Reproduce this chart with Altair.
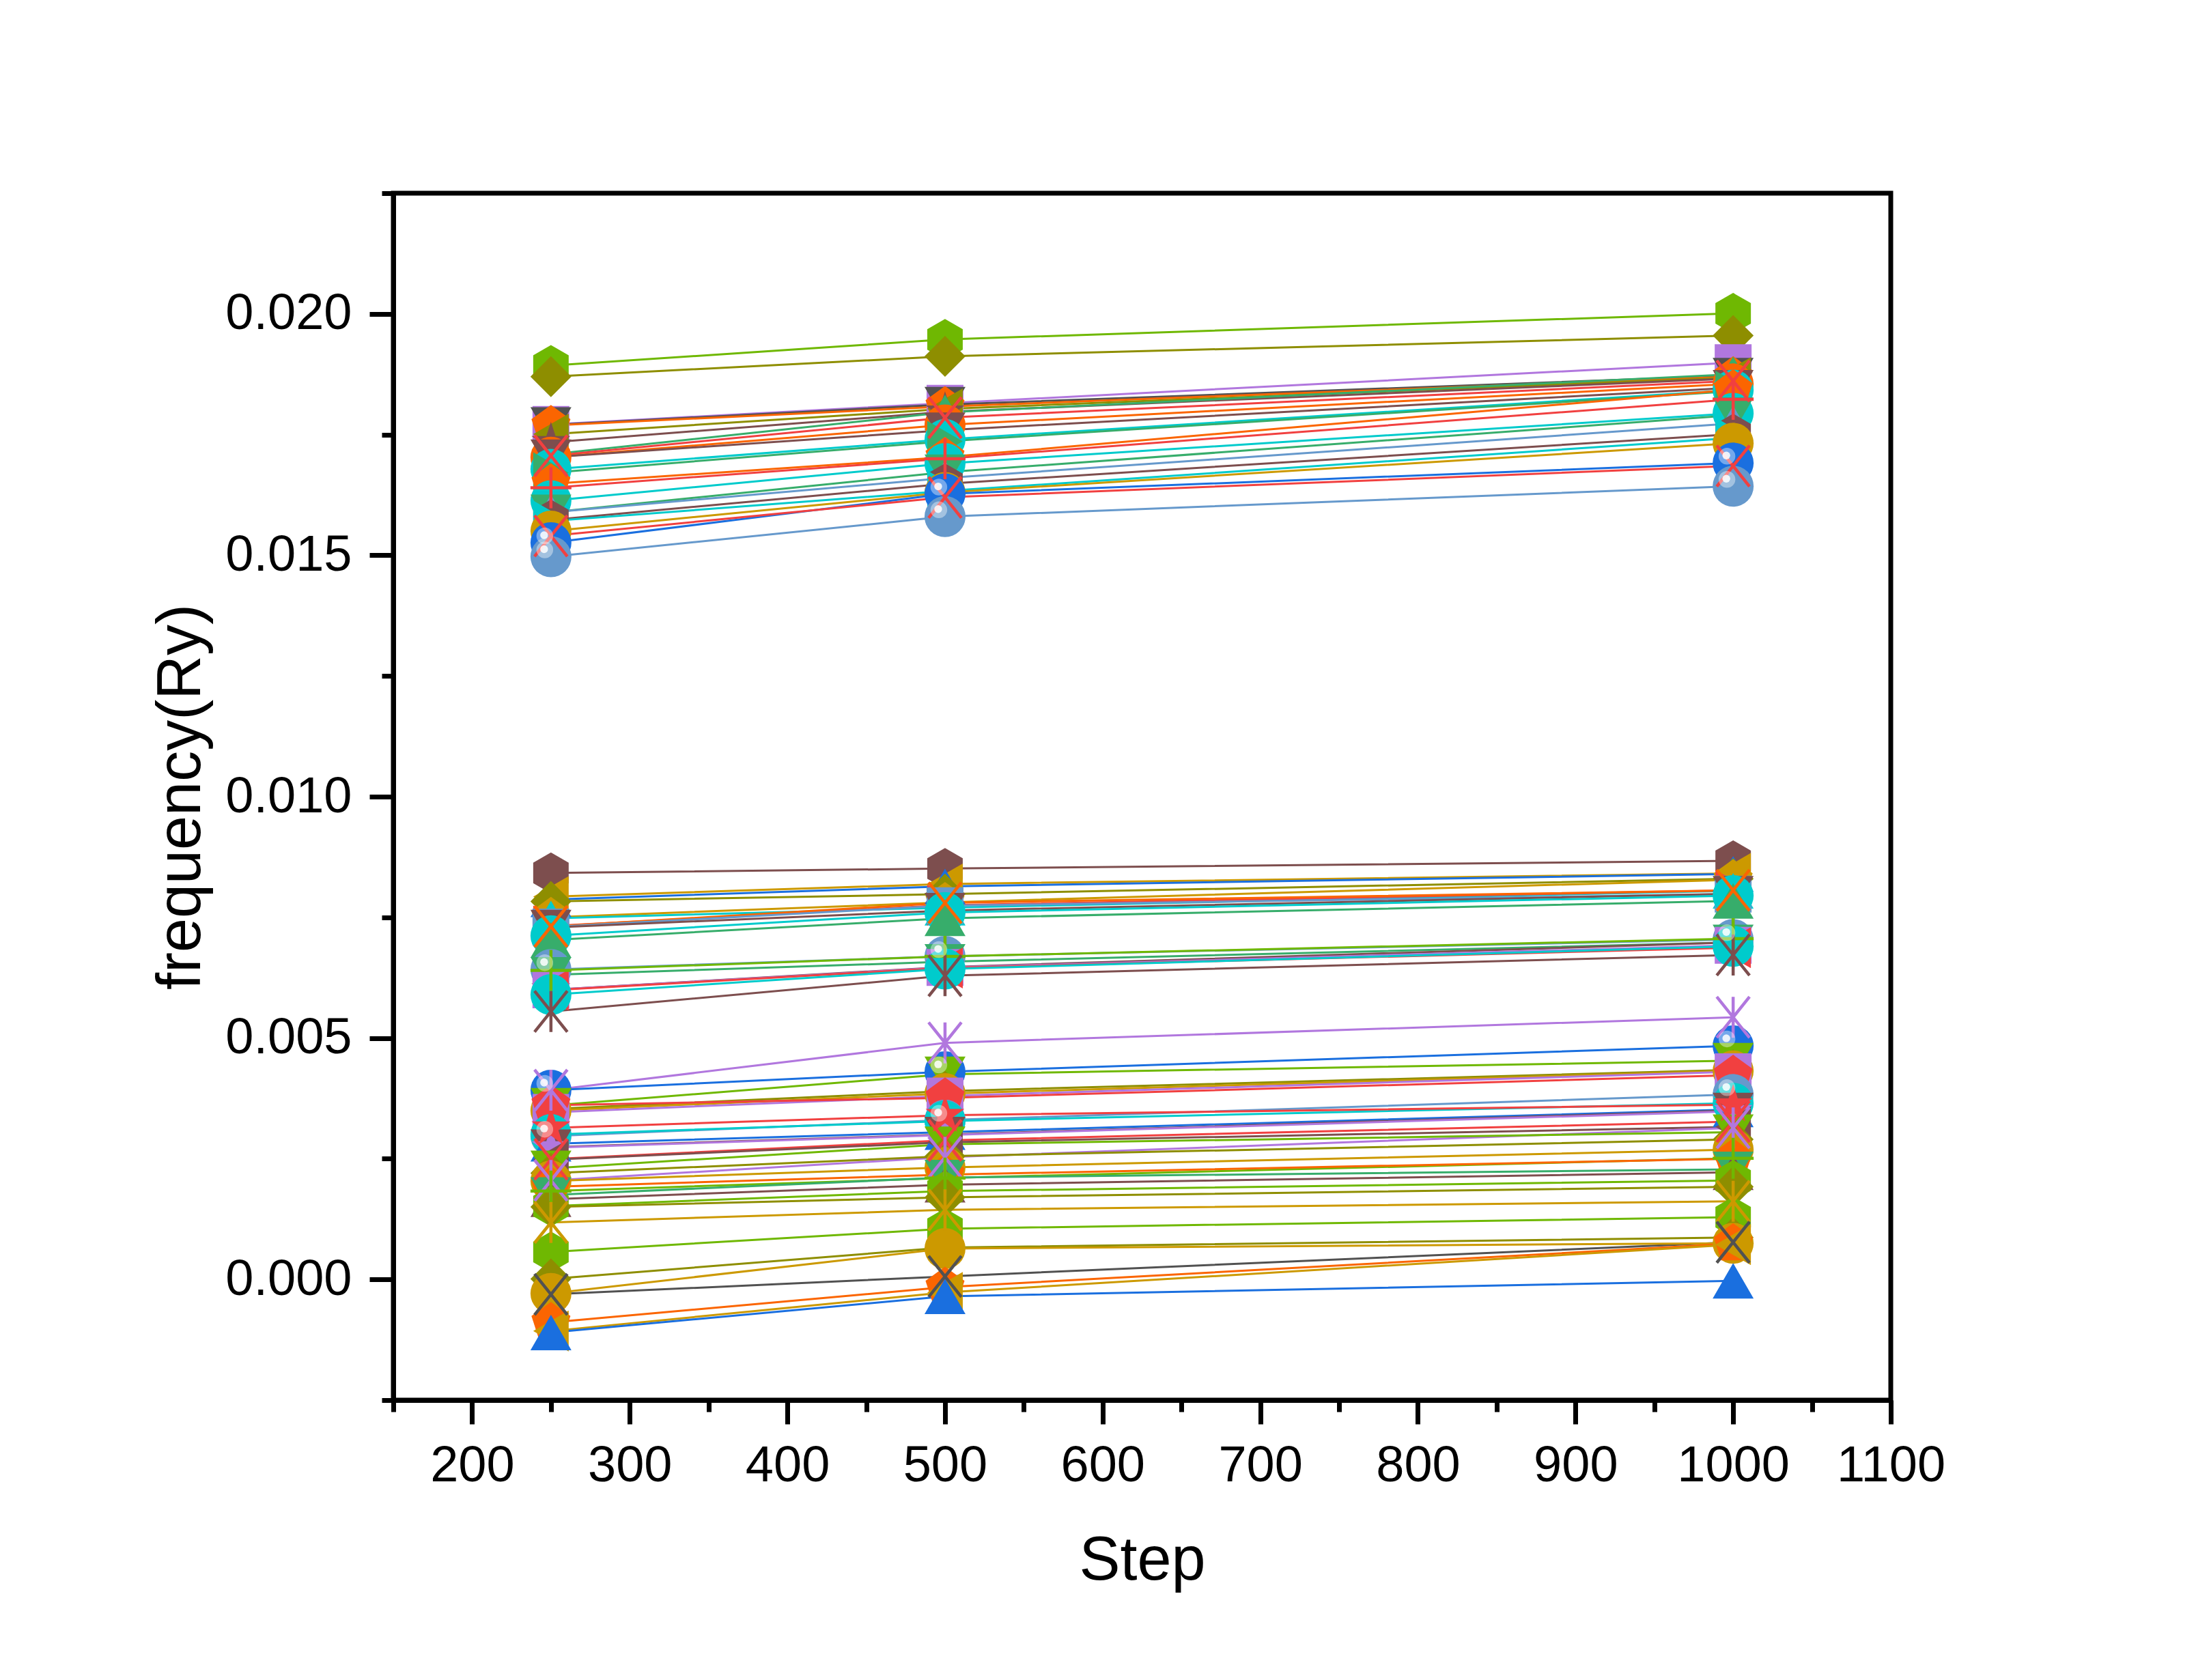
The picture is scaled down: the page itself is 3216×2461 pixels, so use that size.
import altair as alt
import pandas as pd

STEPS = [250, 500, 1000]

# ---------------- data (frequency in Ry) ----------------
# upper band
U_250 = [0.01893, 0.01870, 0.01771, 0.01770, 0.01769, 0.01751, 0.01734, 0.01709,
         0.01706, 0.01703, 0.01703, 0.01678, 0.01671, 0.01648, 0.01640, 0.01613,
         0.01589, 0.01589, 0.01573, 0.01571, 0.01550, 0.01526, 0.01540, 0.01497]
U_500 = [0.01947, 0.01912, 0.01815, 0.01812, 0.01808, 0.01803, 0.01797, 0.01796,
         0.01785, 0.01770, 0.01759, 0.01740, 0.01736, 0.01703, 0.01700, 0.01690,
         0.01672, 0.01660, 0.01648, 0.01633, 0.01630, 0.01627, 0.01620, 0.01580]
U_1000 = [0.02001, 0.01955, 0.01899, 0.01872, 0.01870, 0.01868, 0.01866, 0.01875,
          0.01861, 0.01855, 0.01847, 0.01842, 0.01840, 0.01843, 0.01823, 0.01794,
          0.01790, 0.01773, 0.01751, 0.01743, 0.01732, 0.01691, 0.01685, 0.01643]

# middle band
M_250 = [0.00842, 0.00793, 0.00787, 0.00783, 0.00750, 0.00748, 0.00732, 0.00731,
         0.00730, 0.00729, 0.00712, 0.00703, 0.00642, 0.00640, 0.00631, 0.00600,
         0.00600, 0.00599, 0.00590, 0.00555]
M_500 = [0.00851, 0.00819, 0.00814, 0.00798, 0.00781, 0.00770, 0.00775, 0.00780,
         0.00774, 0.00764, 0.00760, 0.00748, 0.00669, 0.00669, 0.00658, 0.00647,
         0.00646, 0.00645, 0.00643, 0.00629]
M_1000 = [0.00867, 0.00841, 0.00840, 0.00830, 0.00828, 0.00805, 0.00806, 0.00806,
          0.00798, 0.00799, 0.00795, 0.00784, 0.00704, 0.00706, 0.00698, 0.00698,
          0.00692, 0.00687, 0.00690, 0.00672]

# lower band
L_250 = [0.00392, 0.00392, 0.00360, 0.00353, 0.00350, 0.00346, 0.00361, 0.00297,
         0.00300, 0.00281, 0.00274, 0.00273, 0.00249, 0.00248, 0.00205, 0.00230,
         0.00220, 0.00204, 0.00183, 0.00192, 0.00175, 0.00166, 0.00152, 0.00150,
         0.00118, 0.00057, 0.00001, -0.00031, -0.00029, -0.00089, -0.00107,
         -0.00110, 0.00314]
L_500 = [0.00490, 0.00430, 0.00425, 0.00390, 0.00385, 0.00380, 0.00376, 0.00330,
         0.00328, 0.00305, 0.00300, 0.00299, 0.00288, 0.00284, 0.00253, 0.00280,
         0.00255, 0.00232, 0.00210, 0.00217, 0.00211, 0.00196, 0.00183, 0.00170,
         0.00144, 0.00105, 0.00066, 0.00006, 0.00064, -0.00016, -0.00027,
         -0.00035, 0.00340]
L_1000 = [0.00543, 0.00484, 0.00453, 0.00434, 0.00432, 0.00430, 0.00423, 0.00383,
          0.00365, 0.00352, 0.00350, 0.00348, 0.00327, 0.00316, 0.00314, 0.00305,
          0.00290, 0.00269, 0.00251, 0.00250, 0.00228, 0.00222, 0.00205, 0.00192,
          0.00162, 0.00129, 0.00087, 0.00077, 0.00075, 0.00074, 0.00072,
          -0.00003, 0.00362]

# ---------------- styles ----------------
PALETTE = {
    "dkgray": "#515151", "red": "#F14040", "blue": "#1A6FDF", "green": "#37AD6B",
    "purple": "#B177DE", "gold": "#CC9900", "cyan": "#00CBCC", "brown": "#7D4E4E",
    "olive": "#8E8E00", "orange": "#FB6501", "steel": "#6699CC", "lime": "#6FB802",
}
SHAPES = {
    "square": "M-0.9,-0.9L0.9,-0.9L0.9,0.9L-0.9,0.9Z",
    "circle": "circle",
    "sphere": "circle",
    "up": "triangle-up",
    "down": "triangle-down",
    "left": "triangle-left",
    "right": "triangle-right",
    "diamond": "M0,-1L1,0L0,1L-1,0Z",
    "hexagon": "M0,-1L0.866,-0.5L0.866,0.5L0,1L-0.866,0.5L-0.866,-0.5Z",
    "pentagon": "M0,-1L0.951,-0.309L0.588,0.809L-0.588,0.809L-0.951,-0.309Z",
    "star": "M0,-1L0.2245,-0.309L0.951,-0.309L0.363,0.118L0.588,0.809L0,0.382"
            "L-0.588,0.809L-0.363,0.118L-0.951,-0.309L-0.2245,-0.309Z",
    "x": "M-0.8,-1L0.8,1M0.8,-1L-0.8,1",
    "plus": "M0,-1L0,1M-1,0L1,0",
    "asterisk": "M0,-1L0,1M-0.8,-1L0.8,1M0.8,-1L-0.8,1",
}
STROKE_SHAPES = {"x", "plus", "asterisk"}

U_COLOR = ["lime", "olive", "purple", "dkgray", "orange", "olive", "brown", "green",
           "red", "orange", "brown", "cyan", "green", "orange", "red", "cyan",
           "green", "steel", "brown", "cyan", "gold", "blue", "red", "steel"]
U_SHAPE = ["hexagon", "diamond", "square", "down", "pentagon", "left", "star", "up",
           "x", "circle", "down", "circle", "right", "pentagon", "plus", "circle",
           "down", "up", "hexagon", "right", "circle", "sphere", "x", "sphere"]

M_COLOR = ["brown", "gold", "blue", "olive", "gold", "cyan", "red", "orange",
           "steel", "brown", "cyan", "green", "steel", "lime", "green", "brown",
           "purple", "red", "cyan", "brown"]
M_SHAPE = ["hexagon", "left", "up", "diamond", "pentagon", "up", "right", "x",
           "square", "down", "circle", "up", "sphere", "plus", "down", "star",
           "square", "left", "circle", "asterisk"]

L_COLOR = ["purple", "blue", "lime", "olive", "gold", "purple", "red", "steel",
           "cyan", "blue", "brown", "purple", "red", "brown", "purple", "lime",
           "olive", "gold", "lime", "orange", "green", "brown", "lime", "olive",
           "gold", "lime", "olive", "dkgray", "gold", "orange", "gold", "blue", "red"]
L_SHAPE = ["asterisk", "sphere", "down", "diamond", "circle", "square", "pentagon",
           "sphere", "circle", "up", "down", "star", "x", "left", "asterisk", "down",
           "diamond", "circle", "plus", "pentagon", "down", "up", "hexagon",
           "diamond", "asterisk", "hexagon", "diamond", "x", "circle", "pentagon",
           "left", "up", "star"]

X_MAJOR = [200, 300, 400, 500, 600, 700, 800, 900, 1000, 1100]
X_MINOR = [150, 250, 350, 450, 550, 650, 750, 850, 950, 1050]
Y_MAJOR = [0.0, 0.005, 0.010, 0.015, 0.020]
Y_MINOR = [-0.0025, 0.0025, 0.0075, 0.0125, 0.0175, 0.0225]

# ---------------- table ----------------
rows = []
sid = 0
for vals, colors, shapes in [((U_250, U_500, U_1000), U_COLOR, U_SHAPE),
                             ((M_250, M_500, M_1000), M_COLOR, M_SHAPE),
                             ((L_250, L_500, L_1000), L_COLOR, L_SHAPE)]:
    for i in range(len(colors)):
        for step, arr in zip(STEPS, vals):
            rows.append({
                "sid": sid, "step": step, "value": arr[i],
                "color": PALETTE[colors[i]],
                "path": SHAPES[shapes[i]],
                "kind": "stroke" if shapes[i] in STROKE_SHAPES else "fill",
                "sphere": shapes[i] == "sphere",
            })
        sid += 1
df = pd.DataFrame(rows)

FONT = "Liberation Sans"
xscale = alt.Scale(domain=[150, 1100], nice=False, zero=False)
yscale = alt.Scale(domain=[-0.0025, 0.0225], nice=False, zero=False)
W, H = 2193, 1768
SIZE = 3600
AXW = 7

base = alt.Chart(df)

lines = base.mark_line(strokeWidth=3).encode(
    x=alt.X("step:Q", scale=xscale, axis=alt.Axis(
        values=X_MAJOR, format="d", title="Step", orient="bottom", grid=False,
        tickSize=35, tickWidth=AXW, domainWidth=AXW, labelPadding=25,
        labelFontSize=74, titleFontSize=90, labelFlush=False, labelOverlap=False,
        labelLimit=1000, titleY=262, titleBaseline="alphabetic")),
    y=alt.Y("value:Q", scale=yscale, axis=alt.Axis(
        values=Y_MAJOR, format=".3f", title="frequency(Ry)", orient="left", grid=False,
        tickSize=35, tickWidth=AXW, domainWidth=AXW, labelPadding=26,
        labelFontSize=74, titleFontSize=90, labelOverlap=False, labelFlush=False,
        labelLimit=1000, titleLimit=3000,
        titleX=-284, titleY=H / 2, titleAngle=-90, titleBaseline="alphabetic",
        titleAlign="center")),
    color=alt.Color("color:N", scale=None),
    detail="sid:N",
)

minor = base.mark_point(opacity=0).encode(
    x=alt.X("step:Q", scale=xscale, axis=alt.Axis(
        values=X_MINOR, labels=False, domain=False, title=None, orient="bottom",
        grid=False, tickSize=17, tickWidth=AXW)),
    y=alt.Y("value:Q", scale=yscale, axis=alt.Axis(
        values=Y_MINOR, labels=False, domain=False, title=None, orient="left",
        grid=False, tickSize=17, tickWidth=AXW)),
)

xe = alt.X("step:Q", scale=xscale, axis=None)
ye = alt.Y("value:Q", scale=yscale, axis=None)

filled_pts = base.transform_filter(alt.datum.kind == "fill").mark_point(
    filled=True, size=SIZE, opacity=1, strokeWidth=0).encode(
    x=xe, y=ye, color=alt.Color("color:N", scale=None),
    shape=alt.Shape("path:N", scale=None))

stroke_pts = base.transform_filter(alt.datum.kind == "stroke").mark_point(
    filled=False, size=SIZE, opacity=1, strokeWidth=4.5).encode(
    x=xe, y=ye, color=alt.Color("color:N", scale=None),
    shape=alt.Shape("path:N", scale=None))

hl1 = base.transform_filter(alt.datum.sphere).mark_point(
    shape="circle", filled=True, color="white", size=600, opacity=0.4,
    xOffset=-9, yOffset=-10).encode(x=xe, y=ye)
hl2 = base.transform_filter(alt.datum.sphere).mark_point(
    shape="circle", filled=True, color="white", size=130, opacity=0.85,
    xOffset=-10, yOffset=-11).encode(x=xe, y=ye)

chart = alt.layer(lines, minor, filled_pts, stroke_pts, hl1, hl2).resolve_axis(
    x="independent", y="independent"
).properties(
    width=W, height=H,
    autosize=alt.AutoSizeParams(type="none"),
    padding={"left": 568, "top": 275, "right": 420, "bottom": 390},
    background="white",
).configure_view(
    stroke="black", strokeWidth=AXW
).configure_axis(
    labelFont=FONT, titleFont=FONT, labelColor="black", titleColor="black",
    tickColor="black", domainColor="black", titleFontWeight="normal",
)

chart.save("out.html", embed_options={"renderer": "svg", "actions": False})
